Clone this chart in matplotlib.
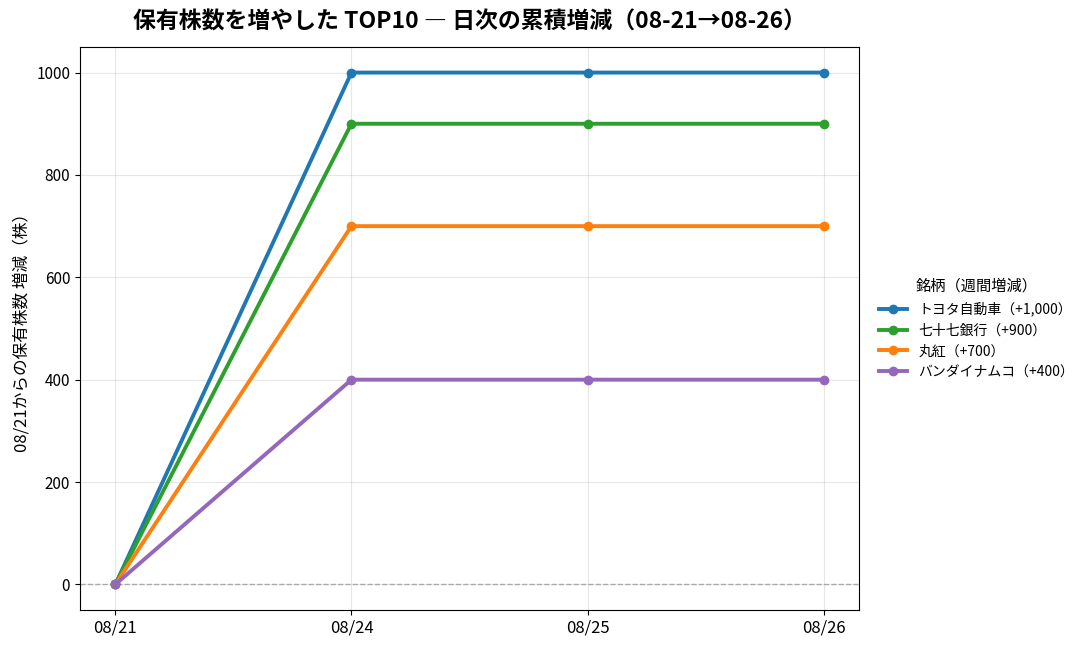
import matplotlib
matplotlib.use("Agg")
import matplotlib.pyplot as plt

plt.rcParams['font.family'] = ['Noto Sans CJK JP', 'DejaVu Sans']

dates = ["08/21", "08/24", "08/25", "08/26"]
names = ["トヨタ自動車", "七十七銀行", "丸紅", "バンダイナムコ"]
weekly = [1000, 900, 700, 400]
toyota = [0, 1000, 1000, 1000]
shichijushichi = [0, 900, 900, 900]
marubeni = [0, 700, 700, 700]
bandai = [0, 400, 400, 400]
series = [toyota, shichijushichi, marubeni, bandai]
colors = ["#1f77b4", "#2ca02c", "#ff7f0e", "#9467bd"]

fig, ax = plt.subplots(figsize=(10.88, 6.49), dpi=100)
fig.subplots_adjust(left=0.0735, right=0.7895, top=0.9276, bottom=0.0601)

x = list(range(len(dates)))
for name, w, ys, c in zip(names, weekly, series, colors):
    ax.plot(x, ys, marker="o", markersize=6, linewidth=2.8, color=c,
            label=f"{name}（+{w:,}）")

ax.axhline(0, color="gray", linestyle="--", linewidth=1, alpha=0.6)
ax.set_xticks(x)
ax.set_xticklabels(dates, fontsize=12)
ax.tick_params(axis="y", labelsize=11)
ax.grid(True, alpha=0.3)
ax.set_ylabel("08/21からの保有株数 増減（株）", fontsize=12)
ax.set_title("保有株数を増やした TOP10 \u2015 日次の累積増減（08-21→08-26）",
             fontsize=16.5, fontweight="bold", pad=13)
ax.legend(title="銘柄（週間増減）", loc="center left", bbox_to_anchor=(1.01, 0.5),
          frameon=False, fontsize=10, title_fontsize=11)

fig.savefig("out.png", dpi=100)
